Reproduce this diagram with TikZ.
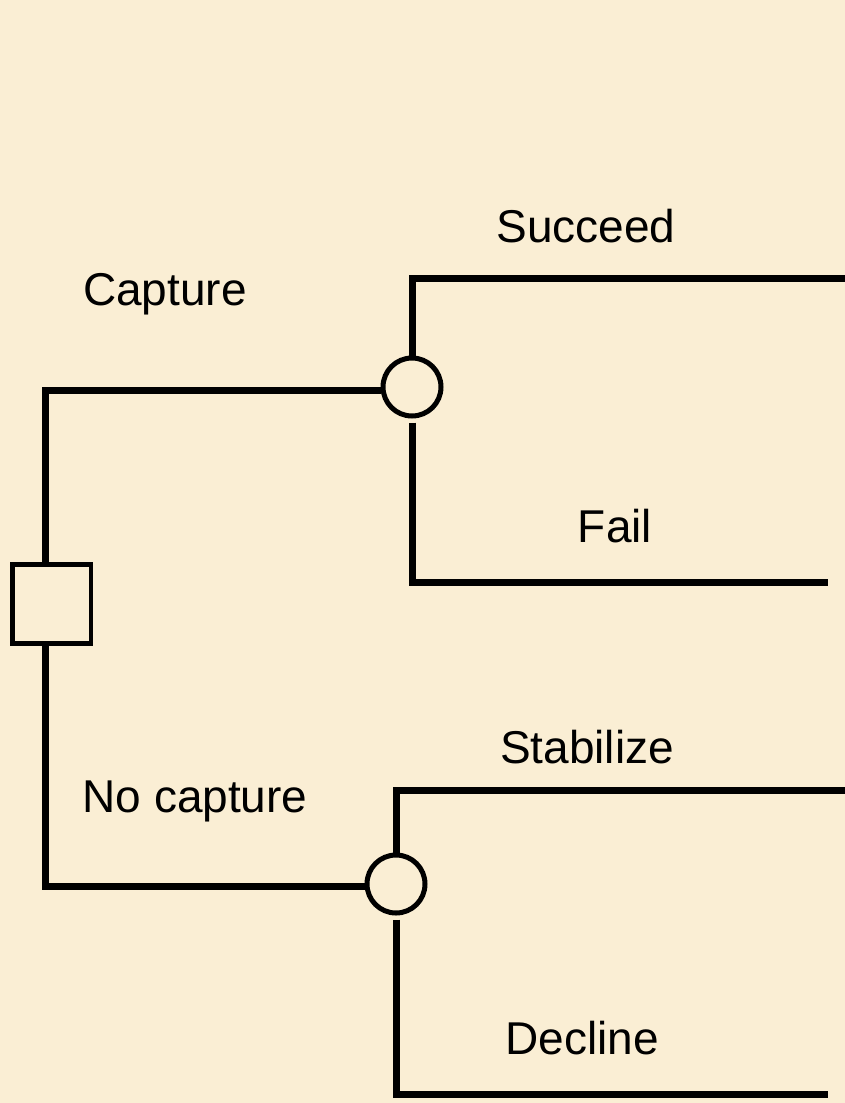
\documentclass[tikz,border=0pt]{standalone}
\usepackage{fontspec}
\setmainfont{Liberation Sans}
\definecolor{parch}{RGB}{250,238,212}
\begin{document}
\begin{tikzpicture}[x=0.75pt,y=-0.75pt,
  branch/.style={line width=5.25pt,line join=miter},
  chance/.style={circle,draw,line width=3.75pt,minimum size=43.5pt,inner sep=0pt},
  decision/.style={rectangle,draw,line width=3.4pt,minimum size=58.9pt,inner sep=0pt},
  lbl/.style={anchor=base,font=\fontsize{34.5}{40}\selectfont,inner sep=0pt}]
\fill[parch] (0,0) rectangle (845,1103);
\useasboundingbox (0,0) rectangle (845,1103);
\node[decision] (d) at (51.5,604) {};
\node[chance] (c1) at (412,387) {};
\node[chance] (c2) at (396,884) {};
\coordinate (k1) at (45,390);
\coordinate (k2) at (45,886);
\coordinate (e1) at (845,278);
\coordinate (e2) at (828,582);
\coordinate (e3) at (845,790);
\coordinate (e4) at (828,1094);
\draw[branch] (d.north -| k1) -- (k1) -- (c1.west |- k1);
\draw[branch] (d.south -| k2) -- (k2) -- (c2.west |- k2);
\draw[branch] (c1.north) |- (e1);
\draw[branch] ([yshift=-3]c1.south) |- (e2);
\draw[branch] (c2.north) |- (e3);
\draw[branch] ([yshift=-3]c2.south) |- (e4);
\node[lbl] (t1) at (586,242) {Succeed};
\node[lbl] (t2) at (165,305) {Capture};
\node[lbl] (t3) at (615,542) {Fail};
\node[lbl] (t4) at (587,763) {Stabilize};
\node[lbl] (t5) at (195,812) {No capture};
\node[lbl] (t6) at (582,1054) {Decline};
\end{tikzpicture}
\end{document}
